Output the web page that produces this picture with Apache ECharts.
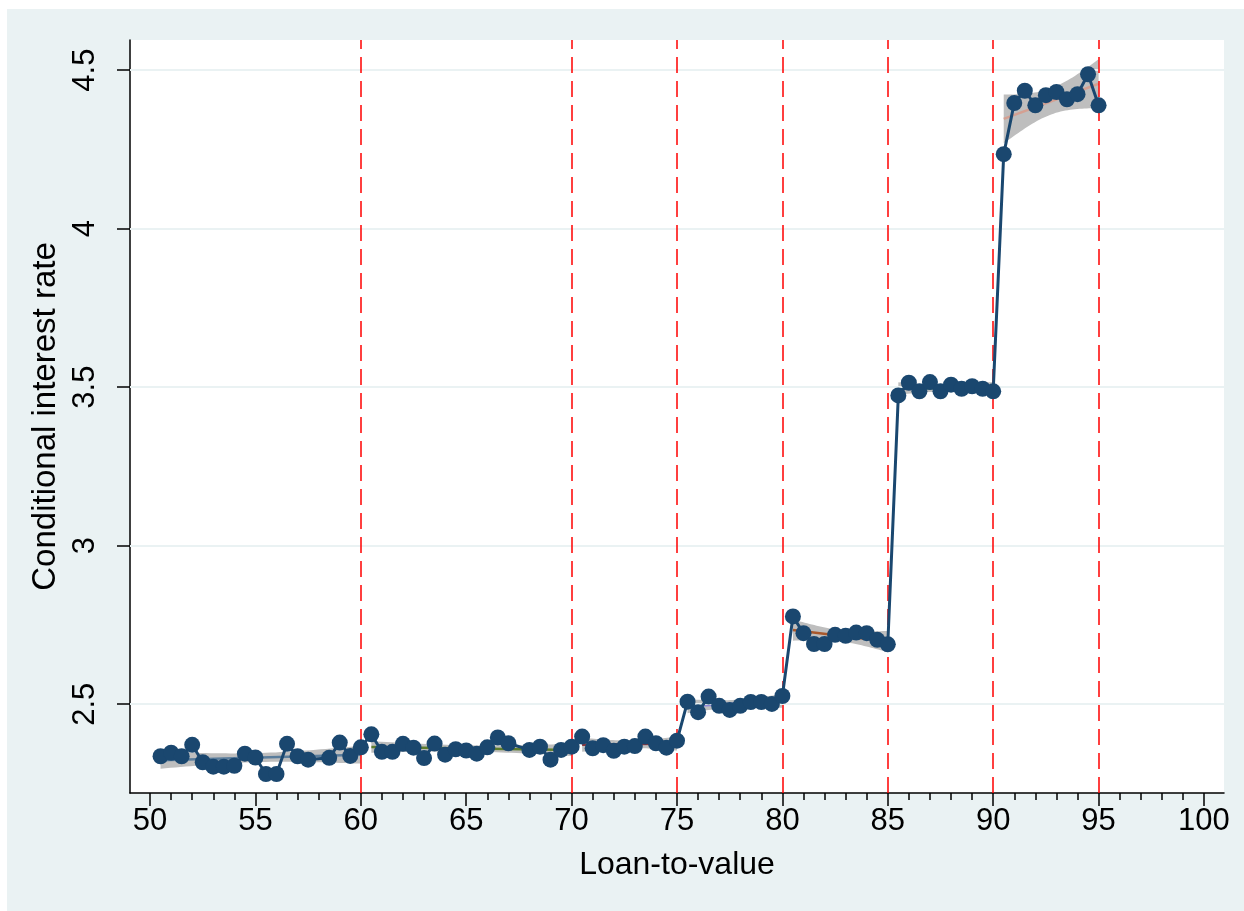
<!DOCTYPE html>
<html>
<head>
<meta charset="utf-8">
<script src="https://cdn.jsdelivr.net/npm/echarts@6/dist/echarts.min.js"></script>
<style>
  html, body { margin: 0; padding: 0; background: #ffffff; }
  #chart { width: 1244px; height: 911px; }
</style>
</head>
<body>
<div id="chart"></div>
<script>
// Binned loan-to-value (percent) and the mean conditional interest rate in each bin
const ltv = [
  50.5, 51, 51.5, 52, 52.5, 53, 53.5, 54, 54.5, 55, 55.5, 56, 56.5, 57, 57.5, 58.5, 59, 59.5, 60,
  60.5, 61, 61.5, 62, 62.5, 63, 63.5, 64, 64.5, 65, 65.5, 66, 66.5, 67, 68, 68.5, 69, 69.5, 70,
  70.5, 71, 71.5, 72, 72.5, 73, 73.5, 74, 74.5, 75,
  75.5, 76, 76.5, 77, 77.5, 78, 78.5, 79, 79.5, 80,
  80.5, 81, 81.5, 82, 82.5, 83, 83.5, 84, 84.5, 85,
  85.5, 86, 86.5, 87, 87.5, 88, 88.5, 89, 89.5, 90,
  90.5, 91, 91.5, 92, 92.5, 93, 93.5, 94, 94.5, 95
];
const rate = [
  2.336, 2.347, 2.336, 2.372, 2.317, 2.303, 2.303, 2.306, 2.344, 2.332, 2.280, 2.280, 2.375, 2.336, 2.325, 2.331, 2.379, 2.337, 2.364,
  2.405, 2.350, 2.350, 2.375, 2.363, 2.330, 2.376, 2.341, 2.358, 2.354, 2.344, 2.364, 2.395, 2.377, 2.356, 2.366, 2.325, 2.356, 2.366,
  2.398, 2.361, 2.371, 2.353, 2.366, 2.368, 2.398, 2.377, 2.363, 2.385,
  2.508, 2.475, 2.524, 2.495, 2.482, 2.495, 2.507, 2.507, 2.501, 2.526,
  2.777, 2.724, 2.690, 2.690, 2.719, 2.716, 2.726, 2.724, 2.703, 2.689,
  3.474, 3.514, 3.487, 3.516, 3.487, 3.508, 3.495, 3.503, 3.495, 3.487,
  4.235, 4.396, 4.435, 4.389, 4.421, 4.431, 4.408, 4.424, 4.487, 4.389
];

// LTV thresholds marked with vertical dashed lines
const cutoffs = [60, 70, 75, 80, 85, 90, 95];
// Segment boundaries for the piecewise linear fits (points with lo < x <= hi)
const segmentEdges = [50, 60, 70, 75, 80, 85, 90, 95];
// Fit line colour for each segment
const fitColors = ['#5a7d9c', '#5e7d2e', '#90353b', '#8f88d8', '#a8582c', '#3f6f5e', '#d4a092'];

const xTicks = [50, 55, 60, 65, 70, 75, 80, 85, 90, 95, 100];
const xMinorTicks = [];
for (let v = 51; v < 100; v++) if (v % 5 !== 0) xMinorTicks.push(v);
const yTicks = [2.5, 3, 3.5, 4, 4.5];

// Two-sided 95% Student t critical values by residual degrees of freedom
const tCrit = { 5: 2.571, 6: 2.447, 7: 2.365, 8: 2.306, 9: 2.262, 10: 2.228, 15: 2.131, 16: 2.120, 17: 2.110, 18: 2.101 };

// OLS fit with 95% confidence band of the mean for each segment
const fits = [];
for (let s = 0; s < segmentEdges.length - 1; s++) {
  const lo = segmentEdges[s], hi = segmentEdges[s + 1];
  const xs = [], ys = [];
  ltv.forEach((x, i) => { if (x > lo && x <= hi) { xs.push(x); ys.push(rate[i]); } });
  const n = xs.length;
  const mx = xs.reduce((a, b) => a + b, 0) / n;
  const my = ys.reduce((a, b) => a + b, 0) / n;
  let sxx = 0, sxy = 0;
  for (let i = 0; i < n; i++) { sxx += (xs[i] - mx) ** 2; sxy += (xs[i] - mx) * (ys[i] - my); }
  const b = sxy / sxx, a = my - b * mx;
  let ssr = 0;
  for (let i = 0; i < n; i++) ssr += (ys[i] - a - b * xs[i]) ** 2;
  const se = Math.sqrt(ssr / (n - 2));
  const t = tCrit[n - 2] || 2.0;
  const x0 = xs[0], x1 = xs[n - 1];
  const upper = [], lower = [];
  const steps = 40;
  for (let k = 0; k <= steps; k++) {
    const x = x0 + (x1 - x0) * k / steps;
    const yhat = a + b * x;
    const h = t * se * Math.sqrt(1 / n + (x - mx) ** 2 / sxx);
    upper.push([x, yhat + h]);
    lower.push([x, yhat - h]);
  }
  fits.push({ line: [[x0, a + b * x0], [x1, a + b * x1]], poly: upper.concat(lower.reverse()) });
}

const FONT = '"Liberation Sans", Arial, Helvetica, sans-serif';
const X_MIN = 49.05, X_MAX = 100.95, Y_MIN = 2.22, Y_MAX = 4.595;

const chart = echarts.init(document.getElementById('chart'), null, { renderer: 'canvas' });

const series = [];

// Horizontal grid lines at the labelled rates
series.push({
  type: 'line', data: [], z: 1, silent: true,
  markLine: {
    silent: true, symbol: ['none', 'none'], label: { show: false },
    lineStyle: { color: '#eaf2f3', width: 2, type: 'solid' },
    data: yTicks.map(v => ({ yAxis: v }))
  }
});

// Confidence bands
series.push({
  type: 'custom', z: 2, silent: true,
  data: fits.map((f, i) => [f.line[0][0], f.line[0][1], i]),
  encode: { x: 0, y: 1 },
  renderItem: (params, api) => {
    const f = fits[api.value(2)];
    return {
      type: 'polygon',
      shape: { points: f.poly.map(p => api.coord(p)) },
      style: { fill: '#bebebe' }
    };
  }
});

// Fit lines
fits.forEach((f, i) => {
  series.push({
    type: 'line', data: f.line, z: 3, silent: true,
    showSymbol: false, symbol: 'none',
    lineStyle: { color: fitColors[i], width: 2.5 }
  });
});

// Threshold lines
series.push({
  type: 'line', data: [], z: 4, silent: true,
  markLine: {
    silent: true, symbol: ['none', 'none'], label: { show: false },
    lineStyle: { color: '#ff0000', width: 1.5, type: [16, 8] },
    data: cutoffs.map(v => ({ xAxis: v }))
  }
});

// Binned means, connected
series.push({
  type: 'line', z: 5,
  data: ltv.map((x, i) => [x, rate[i]]),
  symbol: 'circle', symbolSize: 16, showSymbol: true,
  lineStyle: { color: '#1a476f', width: 3 },
  itemStyle: { color: '#1a476f', borderWidth: 0 }
});

chart.setOption({
  animation: false,
  backgroundColor: '#ffffff',
  graphic: [{
    type: 'rect', z: -10, silent: true,
    shape: { x: 7, y: 9, width: 1237, height: 902 },
    style: { fill: '#eaf2f3' }
  }],
  grid: {
    left: 130, right: 20, top: 40, bottom: 118,
    show: true, backgroundColor: '#ffffff', borderWidth: 0
  },
  xAxis: [{
    type: 'value', min: X_MIN, max: X_MAX,
    name: 'Loan-to-value', nameLocation: 'middle', nameGap: 56,
    nameTextStyle: { fontSize: 32, color: '#000', fontFamily: FONT },
    axisLine: { show: true, onZero: false, lineStyle: { color: '#000', width: 1.5 } },
    axisTick: { show: true, customValues: xTicks, length: 13, lineStyle: { color: '#000', width: 1.5 } },
    axisLabel: { show: true, customValues: xTicks, fontSize: 31, color: '#000', fontFamily: FONT, margin: 13 },
    splitLine: { show: false }
  }, {
    type: 'value', min: X_MIN, max: X_MAX, position: 'bottom', offset: 0,
    axisLine: { show: false },
    axisTick: { show: true, customValues: xMinorTicks, length: 7, lineStyle: { color: '#000', width: 1.5 } },
    axisLabel: { show: false },
    splitLine: { show: false }
  }],
  yAxis: {
    type: 'value', min: Y_MIN, max: Y_MAX,
    name: 'Conditional interest rate', nameLocation: 'middle', nameGap: 60,
    nameTextStyle: { fontSize: 33, color: '#000', fontFamily: FONT },
    axisLine: { show: true, onZero: false, lineStyle: { color: '#000', width: 1.5 } },
    axisTick: { show: true, customValues: yTicks, length: 13, lineStyle: { color: '#000', width: 1.5 } },
    axisLabel: { show: true, customValues: yTicks, rotate: 90, fontSize: 31, color: '#000', fontFamily: FONT, margin: 29 },
    splitLine: { show: false }
  },
  series: series
});
</script>
</body>
</html>
